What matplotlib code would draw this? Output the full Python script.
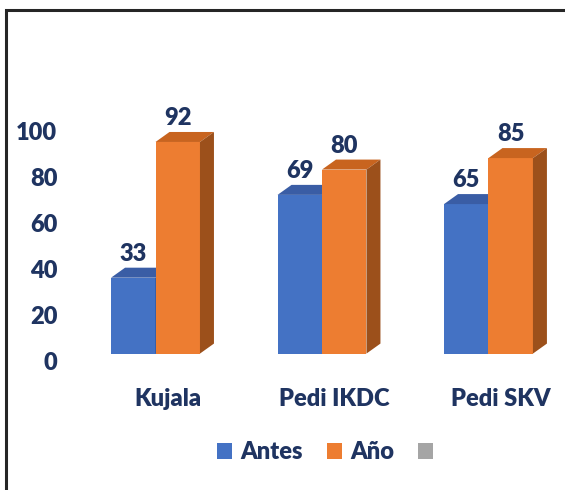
import matplotlib.pyplot as plt
from matplotlib.patches import Polygon, Rectangle
from matplotlib.transforms import ScaledTranslation, blended_transform_factory
import numpy as np

categories = ['Kujala', 'Pedi IKDC', 'Pedi SKV']
antes = [33, 69, 65]
anio = [92, 80, 85]
series_names = ['Antes', 'Año', '']
yticks = [0, 20, 40, 60, 80, 100]

plt.rcParams['font.family'] = ['Lato', 'DejaVu Sans']
plt.rcParams['font.weight'] = 'heavy'
navy = '#1f3461'
fs = 17

fig = plt.figure(figsize=(5.65, 4.9), dpi=100)
ax = fig.add_axes([0.1279, 0.2784, 0.884, 0.4694])
ax.set_xlim(-0.5, 2.5)
ax.set_ylim(0, 100)
ax.axis('off')

width = 0.267
# depth of the fake 3D bars, in data units
ddx = 14 / 166.5
ddy = 10 / 2.3

styles = [
    ('#4472c4', '#3a5da5', '#2f4d8a'),
    ('#ed7d31', '#c8641f', '#9c501b'),
]

x = np.arange(len(categories))
for s, (vals, offs) in enumerate([(antes, -width), (anio, 0.0)]):
    front, top, side = styles[s]
    for xi, v in zip(x, vals):
        x0 = xi + offs
        x1 = x0 + width
        ax.add_patch(Rectangle((x0, 0), width, v, facecolor=front, edgecolor='none', zorder=2 + s))
        ax.add_patch(Polygon([(x0, v), (x1, v), (x1 + ddx, v + ddy), (x0 + ddx, v + ddy)],
                             closed=True, facecolor=top, edgecolor='none', zorder=2 + s, clip_on=False))
        ax.add_patch(Polygon([(x1, 0), (x1 + ddx, ddy), (x1 + ddx, v + ddy), (x1, v)],
                             closed=True, facecolor=side, edgecolor='none', zorder=2 + s, clip_on=False))
        ax.annotate(str(v), (x0 + width / 2, v), xytext=(0, 17), textcoords='offset points',
                    ha='center', va='center', fontsize=fs, color=navy, fontweight='heavy')

# axis labels, placed like the 3D chart's back wall
ytr = blended_transform_factory(ax.transAxes, ax.transData) + \
    ScaledTranslation(-0.15, -0.095, fig.dpi_scale_trans)
for t in yticks:
    ax.text(0, t, str(t), transform=ytr, ha='right', va='center', fontsize=fs,
            color=navy, fontweight='heavy', clip_on=False)
xtr = blended_transform_factory(ax.transData, ax.transAxes) + \
    ScaledTranslation(0.12, -0.45, fig.dpi_scale_trans)
for xi, c in zip(x, categories):
    ax.text(xi, 0, c, transform=xtr, ha='center', va='center', fontsize=fs,
            color=navy, fontweight='heavy', clip_on=False)

handles = [Rectangle((0, 0), 1, 1, facecolor=c, edgecolor='none') for c in ['#4472c4', '#ed7d31', '#a5a5a5']]
leg = fig.legend(handles, series_names, loc='center', bbox_to_anchor=(0.583, 0.077), ncol=3,
                 frameon=False, fontsize=fs, handlelength=0.65, handleheight=0.65,
                 handletextpad=0.35, columnspacing=1.0)
for t in leg.get_texts():
    t.set_color(navy)

# chart border (only left and top edges are visible)
fig.add_artist(Rectangle((6 / 565, -0.1), 1.2, (490 - 10) / 490 + 0.1, transform=fig.transFigure,
                         facecolor='none', edgecolor='#262626', linewidth=2.2))

fig.savefig('out.png', dpi=100)
